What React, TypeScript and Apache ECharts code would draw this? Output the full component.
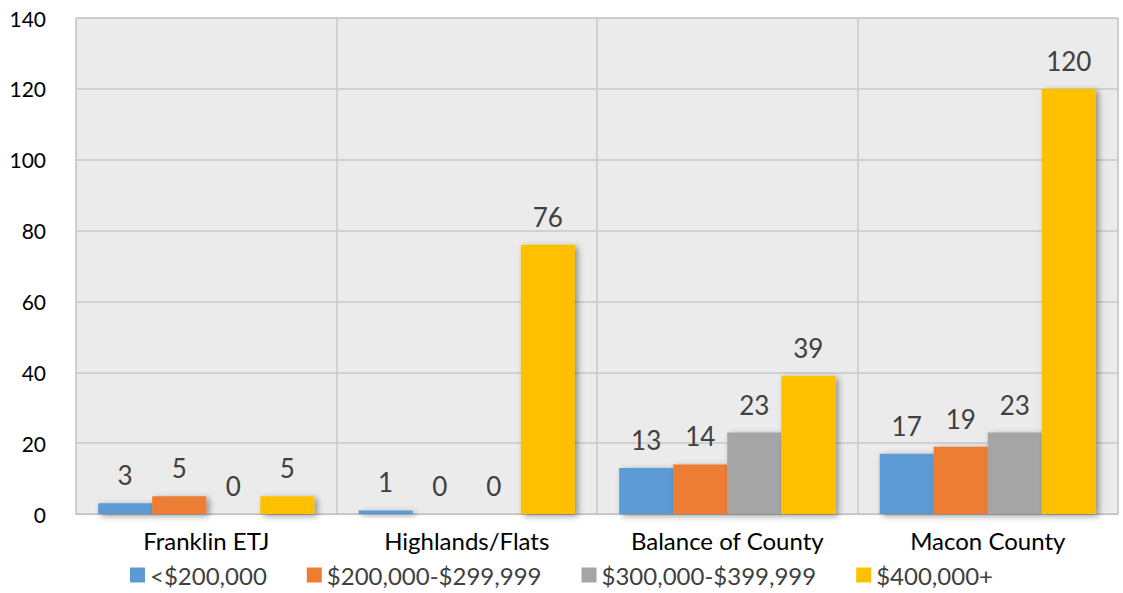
import React, { useEffect, useRef } from "react";
import * as echarts from "echarts";

const categories = ["Franklin ETJ", "Highlands/Flats", "Balance of County", "Macon County"];
const seriesNames = ["<$200,000", "$200,000-$299,999", "$300,000-$399,999", "$400,000+"];
const under200 = [3, 1, 13, 17];
const from200to300 = [5, 0, 14, 19];
const from300to400 = [0, 0, 23, 23];
const over400 = [5, 76, 39, 120];
const colors = ["#5b9bd5", "#ed7d31", "#a5a5a5", "#ffc000"];

const FONT = "Lato, 'Open Sans', sans-serif";

export default function App() {
  const ref = useRef<HTMLDivElement>(null);
  useEffect(() => {
    if (!ref.current) return;
    const chart = echarts.init(ref.current, null, { renderer: "svg" });
    const data = [under200, from200to300, from300to400, over400];
    chart.setOption({
      animation: false,
      textStyle: { fontFamily: FONT },
      grid: { left: 76, right: 5, top: 18, bottom: 79, backgroundColor: "#ebebeb", show: true, borderColor: "#c8c8c8", borderWidth: 1 },
      legend: {
        bottom: 1,
        left: "center",
        itemWidth: 15,
        itemHeight: 15,
        itemGap: 40,
        icon: "rect",
        textStyle: { fontSize: 24, color: "#404040", fontFamily: FONT },
        data: seriesNames,
      },
      xAxis: {
        type: "category",
        data: categories,
        axisTick: { show: false },
        axisLine: { lineStyle: { color: "#c0c0c0", width: 1 } },
        axisLabel: { fontSize: 24, color: "#000", margin: 14, fontFamily: FONT },
        splitLine: { show: true, lineStyle: { color: "#c8c8c8", width: 1.5 } },
      },
      yAxis: {
        type: "value",
        min: 0,
        max: 140,
        interval: 20,
        axisLine: { show: false },
        axisTick: { show: false },
        axisLabel: { fontSize: 21, color: "#000", margin: 30, fontFamily: FONT },
        splitLine: { lineStyle: { color: "#c8c8c8", width: 1.5 } },
      },
      series: seriesNames.map((name, i) => ({
        name,
        type: "bar",
        data: data[i],
        barGap: "0%",
        barCategoryGap: "17%",
        itemStyle: {
          color: colors[i],
          shadowColor: "rgba(0,0,0,0.4)",
          shadowBlur: 6,
          shadowOffsetX: 3,
          shadowOffsetY: 2,
        },
        label: {
          show: true,
          position: "top",
          distance: 15,
          fontSize: 26,
          color: "#404040",
          fontFamily: FONT,
        },
      })),
    });
    return () => chart.dispose();
  }, []);
  return <div ref={ref} style={{ width: 1123, height: 593, position: "absolute", left: 0, top: 0, background: "#fff" }} />;
}
